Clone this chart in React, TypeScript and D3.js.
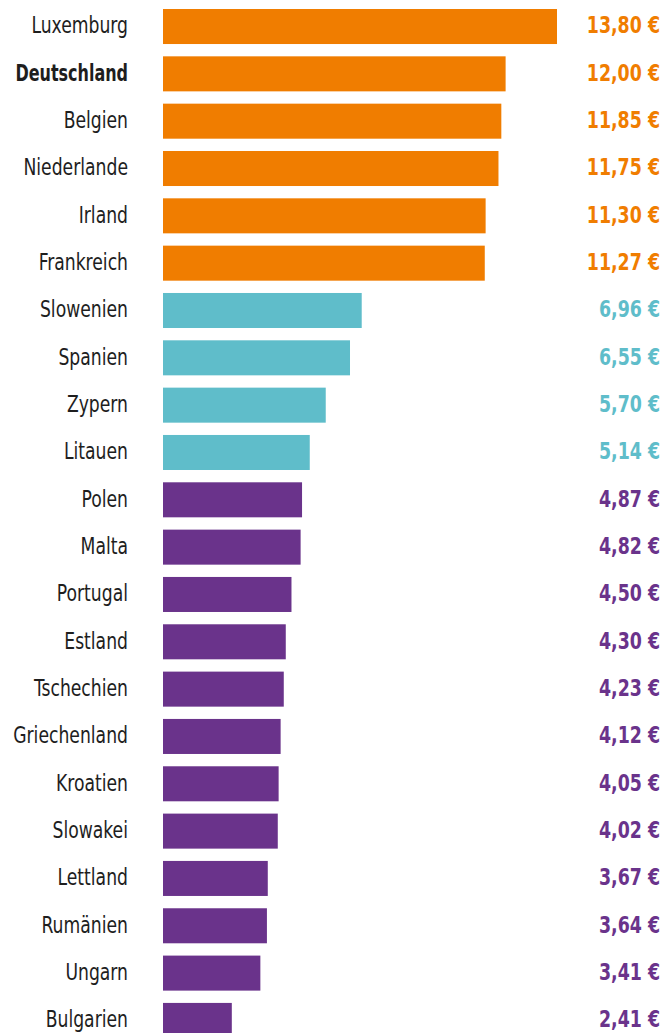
import React from "react";
import * as d3 from "d3";

const countries = [
  "Luxemburg", "Deutschland", "Belgien", "Niederlande", "Irland", "Frankreich",
  "Slowenien", "Spanien", "Zypern", "Litauen", "Polen", "Malta", "Portugal",
  "Estland", "Tschechien", "Griechenland", "Kroatien", "Slowakei", "Lettland",
  "Rumänien", "Ungarn", "Bulgarien",
];
const wages = [
  13.8, 12.0, 11.85, 11.75, 11.3, 11.27,
  6.96, 6.55, 5.7, 5.14, 4.87, 4.82, 4.5,
  4.3, 4.23, 4.12, 4.05, 4.02, 3.67,
  3.64, 3.41, 2.41,
];
// 0 = high, 1 = mid, 2 = low
const groups = [0, 0, 0, 0, 0, 0, 1, 1, 1, 1, 2, 2, 2, 2, 2, 2, 2, 2, 2, 2, 2, 2];
const groupColors = ["#f07d00", "#5fbdca", "#6a338b"];
const highlight = "Deutschland";

const W = 665;
const H = 1033;
const font = "'DejaVu Sans Condensed', 'DejaVu Sans', sans-serif";

export default function App() {
  const x = d3.scaleLinear().domain([0, 13.8]).range([163, 557]);
  const y = d3
    .scaleBand<string>()
    .domain(countries)
    .range([2.85, 1044.1])
    .paddingInner(0.26)
    .paddingOuter(0.13);
  const fmt = (v: number) => v.toFixed(2).replace(".", ",") + " €";

  return (
    <svg
      width={W}
      height={H}
      style={{ position: "absolute", left: 0, top: 0, background: "#fff" }}
    >
      {countries.map((c, i) => {
        const yy = y(c)!;
        const cy = yy + y.bandwidth() / 2;
        const col = groupColors[groups[i]];
        const bold = c === highlight;
        return (
          <g key={c}>
            <rect x={x(0)} y={yy} width={x(wages[i]) - x(0)} height={y.bandwidth()} fill={col} />
            <text
              transform={`translate(128,${cy}) scale(${bold ? 0.79 : 0.85},1)`}
              dy="0.3em"
              textAnchor="end"
              fontFamily={font}
              fontSize={22.5}
              fontWeight={bold ? "bold" : "normal"}
              fill="#1e1e1e"
            >
              {c}
            </text>
            <text
              transform={`translate(660,${cy}) scale(0.86,1)`}
              dy="0.3em"
              textAnchor="end"
              fontFamily={font}
              fontSize={22.5}
              fontWeight="bold"
              fill={col}
            >
              {fmt(wages[i])}
            </text>
          </g>
        );
      })}
    </svg>
  );
}
